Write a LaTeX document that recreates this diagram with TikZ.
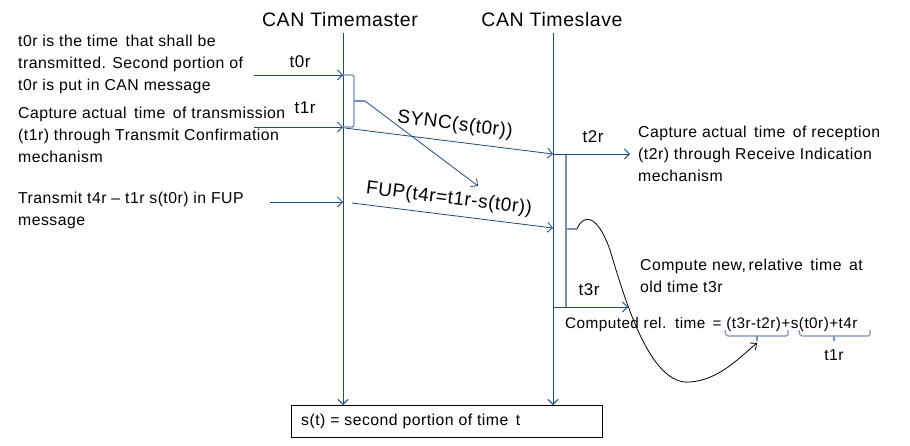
\documentclass[tikz,border=0pt]{standalone}
\usepackage{fontspec}
\setmainfont{Liberation Sans}[LetterSpace=3]
\usetikzlibrary{arrows.meta}
\definecolor{navy}{RGB}{31,73,125}
\definecolor{steel}{RGB}{118,144,182}
\begin{document}
\begin{tikzpicture}[x=1pt,y=-1pt,
  life/.style={draw=navy, line width=0.9pt, -{Straight Barb[length=5pt,width=10pt]}},
  msg/.style={draw=navy, line width=0.8pt, -{Straight Barb[length=5pt,width=10pt]}},
  brc/.style={draw=steel, line width=1.3pt},
  txt/.style={font=\fontsize{15.8}{21.8}\selectfont, align=left, inner sep=0pt, anchor=north west},
  lbl/.style={font=\fontsize{17}{20}\selectfont, inner sep=0pt},
  head/.style={font=\fontsize{19.5}{22}\selectfont, inner sep=0pt},
  big/.style={font=\fontsize{19}{22}\selectfont, inner sep=0pt}]
\useasboundingbox (0,0) rectangle (910,445);
% headers
\node[head] (hm) at (340,20) {CAN Timemaster};
\node[head] (hs) at (552,20) {CAN Timeslave};
% bottom box
\node[draw=black, line width=0.8pt, minimum width=311pt, minimum height=32pt, anchor=north west,
      inner sep=0pt] (box) at (291,405) {};
\node[font=\fontsize{15.8}{18}\selectfont, inner sep=0pt, anchor=west] (boxt) at (301,421) {s(t) = second portion of time\, t};
% lifelines
\coordinate (mTop) at (343,33);
\coordinate (sTop) at (553,33);
\draw[life] (mTop) -- (mTop |- box.north);
\draw[life] (sTop) -- (sTop |- box.north);
% left texts
\node[txt] (l1) at (18,35) {t0r is the time\, that shall be\\transmitted. Second portion of\\t0r is put in CAN message};
\node[txt] (l2) at (18,107) {Capture actual\, time\, of transmission\\(t1r) through Transmit Confirmation\\mechanism};
\node[txt] (l3) at (18,192) {Transmit t4r -- t1r s(t0r) in FUP\\message};
% master side arrows
\coordinate (a0s) at (254,75); \coordinate (a0e) at (343,75);
\coordinate (a1s) at (254,127); \coordinate (a1e) at (343,127);
\coordinate (a2s) at (270,202); \coordinate (a2e) at (343,202);
\draw[msg] (a0s) -- (a0e);
\draw[msg] (a1s) -- (a1e);
\draw[msg] (a2s) -- (a2e);
\node[lbl] (t0r) at (300,62) {t0r};
\node[lbl] (t1r) at (305,108) {t1r};
% master brace
\coordinate (bm1) at (354,75); \coordinate (bm2) at (354,127); \coordinate (bmt) at (365,101);
\draw[brc, rounded corners=2pt] (a0e) -- (bm1) -- (bm2) -- (a1e);
\draw[brc] (bm1 |- bmt) -- (bmt);
\coordinate (ft) at (478,186);
\draw[msg] (bmt) -- (ft);
% SYNC and FUP
\coordinate (ss) at (345,128); \coordinate (se) at (553,154);
\coordinate (fs) at (352,203); \coordinate (fe) at (553,228);
\draw[msg] (ss) -- (se);
\draw[msg] (fs) -- (fe);
\node[big, rotate=-7.3] (sync) at (455,125) {SYNC(s(t0r))};
\node[big, rotate=-7.1] (fup) at (449,199) {FUP(t4r=t1r-s(t0r))};
% slave side
\coordinate (t2e) at (630,154);
\coordinate (t3s) at (553,307); \coordinate (t3e) at (628,307);
\coordinate (bs1) at (566,154); \coordinate (bs2) at (566,307); \coordinate (bst) at (577,229);
\draw[brc] (bs1) -- (bs2);
\draw[brc] (bs1 |- bst) -- (bst);
\draw[msg] (se) -- (t2e);
\draw[msg] (t3s) -- (t3e);
\node[lbl] (t2r) at (593,137) {t2r};
\node[lbl] (t3r) at (589,290) {t3r};
\node[txt] (r1) at (638,126) {Capture actual\, time\, of reception\\(t2r) through Receive Indication\\mechanism};
\node[txt] (r2) at (640,259) {Compute new,\,relative\, time\, at\\old time t3r};
\node[font=\fontsize{15.3}{18}\selectfont, inner sep=0pt, anchor=west] (calc) at (565,325) {Computed rel.\, time\, = (t3r-t2r)+s(t0r)+t4r};
% formula braces
\coordinate (c1a) at (725,330); \coordinate (c1b) at (788,330); \coordinate (c1m) at (757,341);
\coordinate (c2a) at (799,330); \coordinate (c2b) at (870,330); \coordinate (c2m) at (834,341);
\draw[brc, line width=1.1pt, rounded corners=2pt] (c1a) -- ++(1,6) -| (c1b);
\draw[brc, line width=1.1pt] (c1m) -- ++(0,-5);
\draw[brc, line width=1.1pt, rounded corners=2pt] (c2a) -- ++(1,6) -| (c2b);
\draw[brc, line width=1.1pt] (c2m) -- ++(0,-5);
\node[font=\fontsize{15.8}{18}\selectfont, inner sep=0pt] (t1rb) at (834,355) {t1r};
% curve
\coordinate (cend) at (757,343);
\draw[black, line width=0.8pt, -{Straight Barb[length=5pt,width=9pt]}]
  (bst) .. controls (583,214) and (597,213) .. (610,250)
        .. controls (625,300) and (650,386) .. (690,382)
        .. controls (720,380) and (742,355) .. (cend);
\end{tikzpicture}
\end{document}
